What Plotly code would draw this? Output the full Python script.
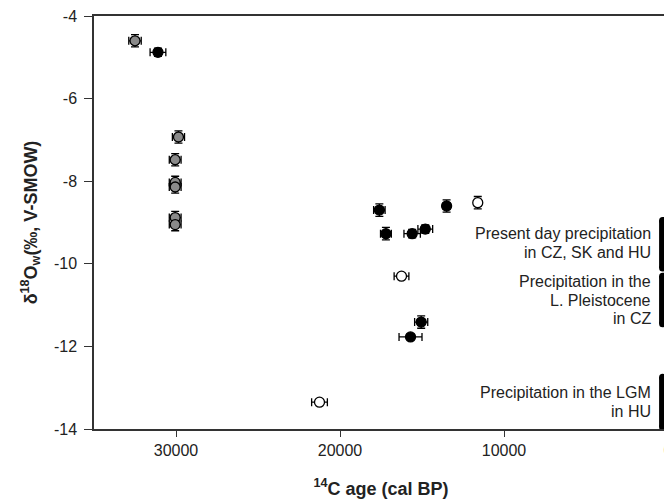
import plotly.graph_objects as go

# grey samples (age cal BP, d18O, age error, d18O error)
grey_age = [32500, 29850, 30050, 30050, 30050, 30050, 30050]
grey_d18o = [-4.6, -6.93, -7.48, -8.03, -8.14, -8.88, -9.05]
grey_xerr = [380, 370, 360, 360, 360, 360, 360]
grey_yerr = [0.15, 0.15, 0.15, 0.15, 0.15, 0.15, 0.15]

# black samples
black_age = [31100, 17600, 17200, 15600, 14800, 13500, 15050, 15700]
black_d18o = [-4.88, -8.7, -9.27, -9.27, -9.16, -8.6, -11.41, -11.77]
black_xerr = [480, 350, 330, 500, 450, 200, 400, 700]
black_yerr = [0.1, 0.15, 0.15, 0.1, 0.1, 0.15, 0.15, 0.0]

# open samples
open_age = [11600, 16250, 21250]
open_d18o = [-8.52, -10.3, -13.35]
open_xerr = [200, 450, 480]
open_yerr = [0.15, 0.0, 0.0]

# precipitation ranges drawn at the right edge
range_top = [-8.95, -10.3, -12.75]
range_bottom = [-10.1, -11.45, -13.95]
range_labels = [["Present day precipitation", "in CZ, SK and HU"],
                ["Precipitation in the", "L. Pleistocene", "in CZ"],
                ["Precipitation in the LGM", "in HU"]]
label_center = [-9.49, -10.88, -13.34]

x_ticks = [30000, 20000, 10000, 0]
y_ticks = [-4, -6, -8, -10, -12, -14]

line_step = 0.455  # about 19 px between text lines

fig = go.Figure()


def add_group(ages, vals, xerr, yerr, fill):
    fig.add_trace(go.Scatter(
        x=ages, y=vals, mode="markers",
        marker=dict(size=10, color=fill, line=dict(color="black", width=1.3)),
        error_x=dict(type="data", array=xerr, color="black", thickness=1.3, width=4),
        error_y=dict(type="data", array=yerr, color="black", thickness=1.3, width=4),
        showlegend=False, hoverinfo="x+y"))


add_group(grey_age, grey_d18o, grey_xerr, grey_yerr, "#8a8a8a")
add_group(black_age, black_d18o, black_xerr, black_yerr, "black")
add_group(open_age, open_d18o, open_xerr, open_yerr, "white")

# thick bars for precipitation ranges
for top, bot in zip(range_top, range_bottom):
    fig.add_trace(go.Scatter(
        x=[330, 330], y=[top, bot], mode="lines+markers",
        line=dict(color="black", width=7),
        marker=dict(size=7, color="black"),
        showlegend=False, hoverinfo="skip"))

for lines, yc in zip(range_labels, label_center):
    n = len(lines)
    for i, txt in enumerate(lines):
        fig.add_annotation(
            x=945, y=yc + (n - 1) / 2 * line_step - i * line_step,
            xref="x", yref="y", text=txt, showarrow=False,
            xanchor="right", yanchor="middle", align="right",
            font=dict(size=16, color="#222"))

fig.update_xaxes(
    range=[35000, 0], tickvals=x_ticks, ticktext=[str(v) for v in x_ticks],
    ticks="outside", ticklen=6, tickwidth=1, tickcolor="#333",
    showline=True, linecolor="#333", linewidth=1.5, mirror=True,
    showgrid=False, zeroline=False, automargin=False,
    tickfont=dict(size=16, color="#222"), ticklabeloverflow="allow",
    title=dict(text="<b><sup>14</sup>C age (cal BP)</b>", font=dict(size=18, color="#222"),
               standoff=24))
fig.update_yaxes(
    range=[-14, -4], tickvals=y_ticks, ticktext=[str(v) for v in y_ticks],
    ticks="outside", ticklen=8, tickwidth=1, tickcolor="#333",
    showline=True, linecolor="#333", linewidth=1.5, mirror=True,
    showgrid=False, zeroline=False, automargin=False,
    tickfont=dict(size=16, color="#222"), ticklabelstandoff=4, ticklabeloverflow="allow",
    title=dict(text="<b>δ<sup>18</sup>O<sub>w</sub>(‰, V-SMOW)</b>", font=dict(size=18, color="#222"),
               standoff=12))

# page body has an 8px margin, so the figure is sized to fit the rest of the window
fig.update_layout(
    width=664, height=494,
    margin=dict(l=86, r=4, t=8, b=73),
    paper_bgcolor="white", plot_bgcolor="white",
    font=dict(family="Liberation Sans, Arial, sans-serif", color="#222"))

fig.write_html("out.html")
